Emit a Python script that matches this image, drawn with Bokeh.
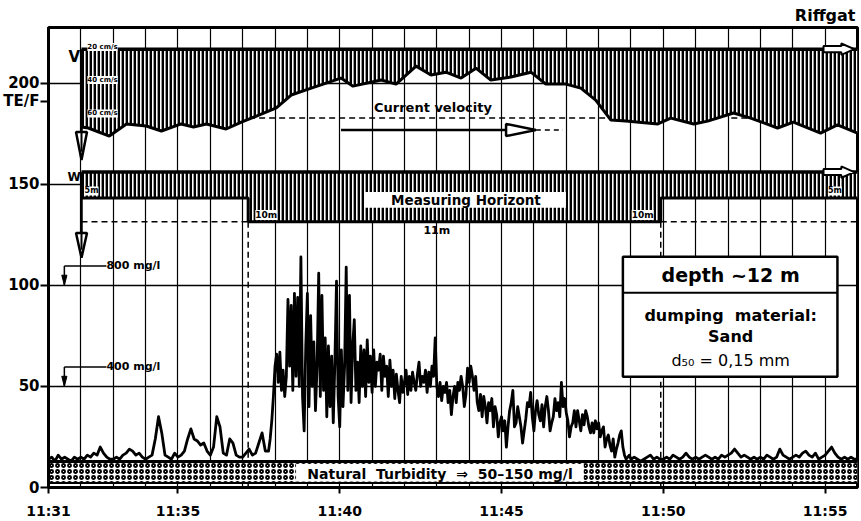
from bokeh.plotting import figure
from bokeh.models import Label, FixedTicker
from bokeh.embed import file_html
from bokeh.resources import INLINE

FONT = "DejaVu Sans"

# ---------------- data ----------------
# time axis: minutes after 11:31
tick_minutes = [0, 4, 9, 14, 19, 24]
tick_labels = ["11:31", "11:35", "11:40", "11:45", "11:50", "11:55"]
grid_minutes = list(range(0, 26))
y_ticks = [0, 50, 100, 150, 200]
y_grid = [50, 100, 150, 200]
unit_tick = 191
unit_label = "TE/F"

# turbidity signal (TE/F)
# before the dumping: one value every 0.1 min from 11:31:00
turb_before = [
    14, 15, 13, 16, 14, 15, 14, 13, 15, 14,
    15, 14, 16, 15, 17, 16, 20, 17, 15, 14,
    14, 15, 14, 16, 17, 19, 18, 16, 17, 15,
    14, 15, 16, 24, 35, 27, 16, 15, 14, 17,
    15, 16, 18, 24, 29, 24, 23, 21, 22, 18,
    16, 20, 35, 30, 17, 16, 24, 22, 16, 15,
    15, 17, 19, 16, 17, 22, 27, 18,
]
# plume passage: one value every 0.05 min from 11:37:48
turb_plume = [
    18, 24, 33, 45, 60, 66, 52, 67, 48, 58,
    45, 55, 93, 60, 90, 48, 96, 55, 94, 50,
    114, 45, 28, 70, 96, 40, 85, 50, 72, 38,
    60, 106, 45, 95, 48, 74, 35, 70, 40, 65,
    32, 62, 102, 45, 30, 68, 40, 60, 109, 48,
    95, 42, 70, 83, 48, 62, 42, 70, 50, 68,
    45, 73, 52, 65, 47, 68, 50, 62, 58, 66,
    48, 65, 55, 60, 45, 63, 50, 58, 44, 56,
    48, 42, 55, 47, 52, 58, 46, 55, 48, 57,
    52, 48, 56, 62, 50, 55, 52, 58, 47, 57,
    50, 60, 55, 74, 50, 45, 52, 43, 50, 47,
    52, 42, 48, 36, 45, 50, 42, 52, 48, 55,
    50, 40, 46, 59, 52, 60, 55, 48, 55, 42,
    38, 46, 35, 45, 40, 32, 42, 38, 44, 30,
    40, 36, 25, 32, 35, 28, 33, 20, 30, 38,
    42, 48, 30, 32, 40, 35, 30, 22, 28, 34,
    42, 40, 47, 35, 28, 38, 43, 36, 33, 41,
    30, 40, 45, 38, 28, 32, 35, 44, 38, 42,
    35, 52, 40, 44, 37, 33, 25, 30, 32, 38,
    30, 38, 33, 28, 36, 31, 38, 35, 30, 27,
    32, 27, 33, 29, 32, 25, 28, 30, 20, 24,
    26, 21, 18, 24, 15, 19, 22, 26, 28, 20,
    16, 14, 15, 16, 14,
]
# after the plume: one value every 0.1 min from 11:49:06
turb_after = [
    15, 14, 13, 14, 15, 16, 14, 15, 14,
    14, 15, 14, 16, 15, 14, 15, 17, 15, 14,
    15, 14, 15, 16, 15, 14, 15, 14, 16, 15,
    16, 17, 19, 17, 15, 16, 15, 14, 15, 14,
    15, 14, 16, 15, 14, 15, 19, 16, 15, 14,
    15, 16, 15, 17, 18, 16, 15, 17, 14, 15,
    16, 18, 20, 17, 15, 14, 15, 14, 15, 14,
    14,
]
t_before = [i * 0.1 for i in range(len(turb_before))]
t_plume = [6.8 + i * 0.05 for i in range(len(turb_plume))]
t_after = [18.1 + i * 0.1 for i in range(len(turb_after))]
turb_t = t_before + t_plume + t_after
turbidity = turb_before + turb_plume + turb_after

# current velocity band (lower edge follows the velocity)
vel_t = [1.02, 1.23, 1.88, 2.41, 3.02, 3.49, 4.10, 4.48, 4.88, 5.49, 5.96, 6.27,
         7.04, 7.50, 8.12, 9.04, 9.41, 10.28, 10.74, 11.36, 11.82, 12.28, 12.75,
         13.21, 13.67, 14.29, 14.91, 15.37, 15.99, 16.45, 16.91, 17.38, 17.84,
         18.83, 19.23, 19.94, 20.37, 21.17, 21.70, 22.53, 23.02, 23.86, 24.38, 25.0]
vel_bottom = [178.3, 177.8, 173.8, 179.8, 178.8, 176.3, 179.8, 178.3, 179.8, 177.3,
              180.7, 182.7, 187.7, 194.1, 197.5, 202.5, 198.5, 201.5, 199.5, 208.4,
              204.0, 205.4, 202.5, 207.4, 201.5, 203.0, 205.4, 199.5, 199.5, 197.5,
              191.6, 181.7, 181.2, 179.8, 182.7, 179.8, 181.2, 185.2, 182.7, 177.8,
              180.7, 175.3, 179.3, 175.3]
vel_top = 216.8
vel_ref = 182.7
vel_ref_spans = [(6.2, 17.4), (21.1, 21.8)]

# measuring horizon band (5 m -> 10 m -> 5 m)
horizon_t = [1.02, 6.17, 6.17, 18.92, 18.92, 25.0]
horizon_bottom = [143.2, 143.2, 131.4, 131.4, 143.2, 143.2]
horizon_top = 156.0
depth10 = 131.4
horizon_change = [6.17, 18.92]

# natural turbidity band
natural_low, natural_high = 2.2, 12.8

# mg/l reference markers
mg_levels = [100, 50]
mg_labels = ["800 mg/l", "400 mg/l"]

# ---------------- figure ----------------
p = figure(width=861, height=521, x_range=(0, 25), y_range=(0, 227.5),
           output_backend="svg", toolbar_location=None,
           min_border_left=47, min_border_right=4, min_border_top=27,
           min_border_bottom=33)
p.background_fill_color = "white"
p.border_fill_color = "white"
p.outline_line_color = "black"
p.outline_line_width = 3

p.title.text = "Riffgat"
p.title.align = "right"
p.title.text_font = FONT
p.title.text_font_size = "16px"
p.title.text_font_style = "bold"
p.title.text_color = "black"
p.title.standoff = 6
p.title.offset = 2

p.xaxis.ticker = FixedTicker(ticks=tick_minutes)
p.xaxis.major_label_overrides = {m: l for m, l in zip(tick_minutes, tick_labels)}
p.xaxis.major_tick_out = 6
p.xaxis.major_tick_in = 0
p.xaxis.minor_tick_out = 0
p.xaxis.minor_tick_in = 0
p.xaxis.major_label_standoff = 9
# the unit "TE/F" is written as an extra tick label just under 200
p.yaxis.ticker = FixedTicker(ticks=sorted(y_ticks + [unit_tick]))
p.yaxis.major_label_overrides = {unit_tick: unit_label}
p.yaxis.major_tick_out = 8
p.yaxis.major_tick_in = 0
p.yaxis.minor_tick_out = 0
p.yaxis.minor_tick_in = 0
p.yaxis.major_label_standoff = 1
for ax in (p.xaxis, p.yaxis):
    ax.axis_line_width = 3
    ax.axis_line_color = "black"
    ax.major_tick_line_width = 2
    ax.major_tick_line_color = "black"
    ax.major_label_text_font = FONT
    ax.major_label_text_font_style = "bold"
    ax.major_label_text_color = "black"
p.xaxis.major_label_text_font_size = "14px"
p.yaxis.major_label_text_font_size = "15px"

p.xgrid.ticker = FixedTicker(ticks=grid_minutes)
p.xgrid.grid_line_color = "black"
p.xgrid.grid_line_width = 1.2
p.ygrid.ticker = FixedTicker(ticks=y_grid)
p.ygrid.grid_line_color = "black"
p.ygrid.grid_line_width = 1.5

# dashed reference line of the velocity
p.segment(x0=[s[0] for s in vel_ref_spans], x1=[s[1] for s in vel_ref_spans],
          y0=[vel_ref] * len(vel_ref_spans), y1=[vel_ref] * len(vel_ref_spans),
          line_color="black", line_width=1.5, line_dash="6 4")

HATCH = dict(fill_color="white", hatch_pattern="vertical_line", hatch_color="black",
             hatch_scale=4, hatch_weight=2.8)

# velocity band
p.varea(x=vel_t, y1=vel_bottom, y2=[vel_top] * len(vel_t), **HATCH)
p.line(vel_t, vel_bottom, line_color="black", line_width=3)
p.line([vel_t[0], vel_t[-1]], [vel_top, vel_top], line_color="black", line_width=3.5)
p.line([vel_t[0], vel_t[0]], [vel_bottom[0], vel_top], line_color="black", line_width=3)

# measuring horizon band
p.varea(x=horizon_t, y1=horizon_bottom, y2=[horizon_top] * len(horizon_t), **HATCH)
p.line(horizon_t, horizon_bottom, line_color="black", line_width=3)
p.line([horizon_t[0], horizon_t[-1]], [horizon_top, horizon_top], line_color="black", line_width=3.5)
p.line([horizon_t[0], horizon_t[0]], [horizon_bottom[0], horizon_top], line_color="black", line_width=3)
p.quad(left=[9.75], right=[15.99], bottom=[138.3], top=[146.2],
       fill_color="white", line_color=None)

# 10 m dashed lines
p.segment(x0=[horizon_t[0], horizon_change[1]], x1=[horizon_change[0], horizon_t[-1]],
          y0=[depth10, depth10], y1=[depth10, depth10],
          line_color="black", line_width=1.5, line_dash="6 4")
p.segment(x0=horizon_change, x1=horizon_change, y0=[depth10] * 2, y1=[0, 0],
          line_color="black", line_width=1.5, line_dash="6 4")

# natural turbidity band
p.varea(x=[0, 25], y1=[natural_low] * 2, y2=[natural_high] * 2, fill_color="white",
        hatch_pattern="ring", hatch_color="black", hatch_scale=6, hatch_weight=1.8)
p.line([0, 25], [natural_high] * 2, line_color="black", line_width=3)
p.line([0, 25], [natural_low] * 2, line_color="black", line_width=2)
p.quad(left=[7.65], right=[16.54], bottom=[natural_low + 0.8], top=[natural_high - 1.2],
       fill_color="white", line_color=None)

# turbidity signal
p.line(turb_t, turbidity, line_color="black", line_width=2.8, line_join="round")

# down arrows from V and W
arrow_x = vel_t[0]
arrow_start = [vel_bottom[0], horizon_bottom[0]]
arrow_base = [175.8, 125.9]
arrow_tip = [162.0, 113.6]
hw = 0.17
p.segment(x0=[arrow_x] * 2, x1=[arrow_x] * 2, y0=arrow_start, y1=arrow_base,
          line_color="black", line_width=2.5)
p.patches(xs=[[arrow_x - hw, arrow_x + hw, arrow_x] for _ in arrow_tip],
          ys=[[b, b, t] for b, t in zip(arrow_base, arrow_tip)],
          fill_color="white", line_color="black", line_width=2.5)
p.segment(x0=[arrow_x] * 2, x1=[arrow_x] * 2, y0=arrow_base, y1=[t + 4 for t in arrow_tip],
          line_color="black", line_width=2)

# mg/l markers
mg_x0, mg_x1 = 0.49, 1.79
p.segment(x0=[mg_x0] * 2, x1=[mg_x1] * 2, y0=[m + 9.6 for m in mg_levels],
          y1=[m + 9.6 for m in mg_levels], line_color="black", line_width=1.5)
p.segment(x0=[mg_x0] * 2, x1=[mg_x0] * 2, y0=[m + 9.6 for m in mg_levels],
          y1=mg_levels, line_color="black", line_width=1.5)
p.patches(xs=[[mg_x0 - 0.08, mg_x0 + 0.08, mg_x0] for _ in mg_levels],
          ys=[[m + 5, m + 5, m] for m in mg_levels],
          fill_color="black", line_color="black", line_width=1)

# current velocity arrow
cv_y = 176.8
p.line([9.04, 14.14], [cv_y, cv_y], line_color="black", line_width=2.5)
p.patches(xs=[[14.14, 14.14, 15.06]], ys=[[cv_y + 3, cv_y - 3, cv_y]],
          fill_color="white", line_color="black", line_width=2.5)
p.line([15.06, 15.9], [cv_y, cv_y], line_color="black", line_width=1.5, line_dash="5 4")

# right-hand flow markers
for lvl in (vel_top, horizon_top):
    p.patches(xs=[[23.95, 24.5, 24.5, 24.9, 24.5, 24.5, 23.95]],
              ys=[[lvl - 1.5, lvl - 1.5, lvl - 2.8, lvl, lvl + 2.8, lvl + 1.5, lvl + 1.5]],
              fill_color="white", line_color="black", line_width=2)

# info box
box_l, box_r, box_b, box_t, box_div = 17.75, 24.38, 54.8, 114.1, 96.3
p.quad(left=[box_l], right=[box_r], bottom=[box_b], top=[box_t],
       fill_color="white", line_color="black", line_width=2.5)
p.segment(x0=[box_l], x1=[box_r], y0=[box_div], y1=[box_div], line_color="black", line_width=2)


def lab(x, y, text, size, bold=True, align="center", bg=None):
    kw = dict(x=x, y=y, text=text, text_font=FONT, text_font_size=f"{size}px",
              text_font_style="bold" if bold else "normal", text_align=align,
              text_baseline="middle", text_color="black")
    if bg:
        kw["background_fill_color"] = bg
    p.add_layout(Label(**kw))


lab(0.80, 212.8, "V", 15)
lab(0.79, 153.8, "W", 12)
lab(11.88, 188.1, "Current velocity", 13)
lab(12.9, 142.2, "Measuring Horizont", 13.5)
lab(12.0, 126.9, "11m", 11)
lab(6.73, 134.8, "10m", 9, bg="white")
lab(18.36, 134.8, "10m", 9, bg="white")
lab(1.33, 146.7, "5m", 8, bg="white")
lab(24.3, 146.7, "5m", 8, bg="white")
for yy, tx in zip([217.8, 201.5, 185.0], ["20 cm/s", "40 cm/s", "60 cm/s"]):
    lab(1.67, yy, tx, 7, bg="white")
for m, tx in zip(mg_levels, mg_labels):
    lab(1.79, m + 9.6, tx, 11, align="left")
lab(12.1, 6.6, "Natural\u00a0 Turbidity\u00a0 \u21d2\u00a0 50\u2013150 mg/l", 14)
lab(21.08, 105.2, "depth ~12 m", 19)
lab(21.08, 84.9, "dumping\u00a0 material:", 16)
lab(21.08, 74.6, "Sand", 16)
lab(21.08, 62.7, "d\u2085\u2080 = 0,15 mm", 16, bold=False)

open("out.html", "w").write(file_html(p, INLINE))
